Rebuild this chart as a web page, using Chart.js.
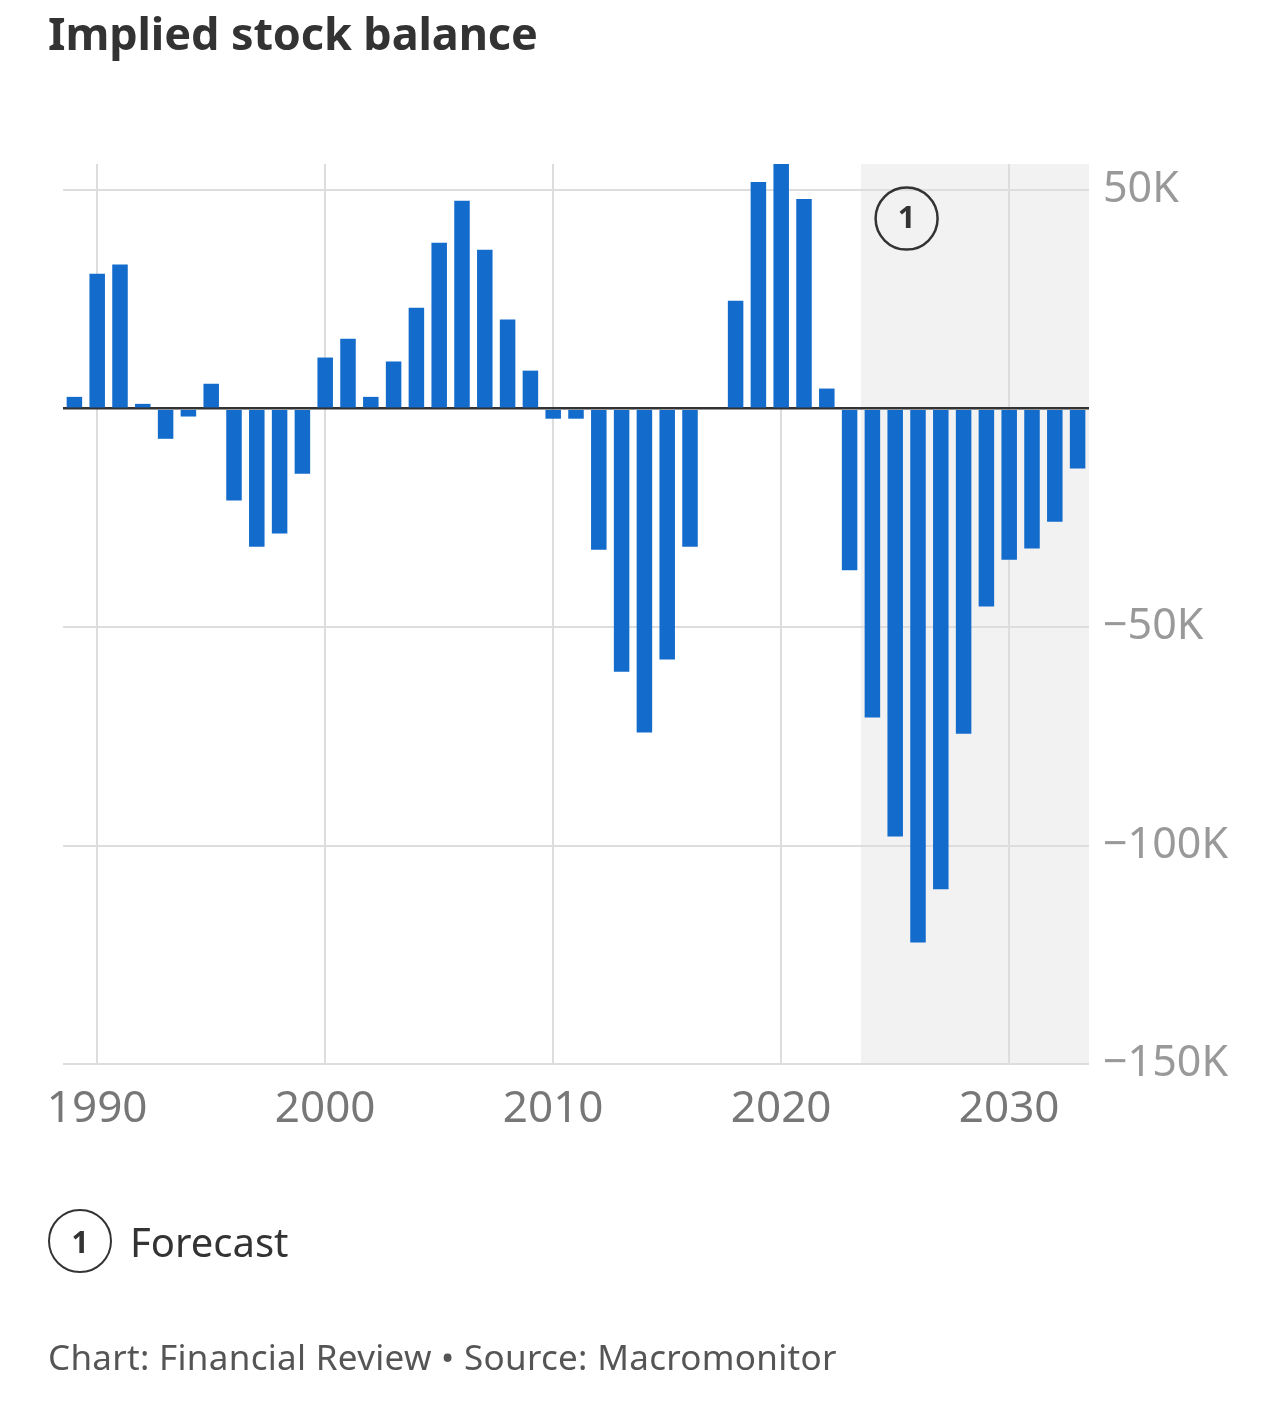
<!DOCTYPE html>
<html>
<head>
<meta charset="utf-8">
<script src="https://cdn.jsdelivr.net/npm/chart.js@4"></script>
<style>
  body { margin: 0; background: #fff; font-family: "Noto Sans", sans-serif; }
  #wrap { position: absolute; left: 0; top: 0; width: 1284px; height: 1402px; }
  #title { position: absolute; left: 48px; top: 2px; font-size: 45px; font-weight: 700; color: #333; letter-spacing: -0.1px; }
  #legend { position: absolute; left: 48px; top: 1209px; height: 64px; display: flex; align-items: center; }
  #legend .num { width: 60px; height: 60px; border: 2px solid #333; border-radius: 50%; display: flex; align-items: center; justify-content: center; font-size: 30px; font-weight: 700; color: #333; }
  #legend .txt { margin-left: 18px; font-size: 40px; color: #333; }
  #footer { position: absolute; left: 48px; top: 1333px; font-size: 35px; letter-spacing: 0.3px; color: #555; }
</style>
</head>
<body>
<div id="wrap"><canvas id="chart"></canvas></div>
<div id="title">Implied stock balance</div>
<div id="legend"><div class="num">1</div><div class="txt">Forecast</div></div>
<div id="footer">Chart: Financial Review • Source: Macromonitor</div>
<script>
const years = [1989, 1990, 1991, 1992, 1993, 1994, 1995, 1996, 1997, 1998,
  1999, 2000, 2001, 2002, 2003, 2004, 2005, 2006, 2007, 2008,
  2009, 2010, 2011, 2012, 2013, 2014, 2015, 2016, 2017, 2018,
  2019, 2020, 2021, 2022, 2023, 2024, 2025, 2026, 2027, 2028,
  2029, 2030, 2031, 2032, 2033];
const balance = [2700, 30900, 33000, 1100, -6900, -1800, 5700, -21000, -31600, -28600,
  -14900, 11700, 16000, 2700, 10800, 23100, 38000, 47600, 36400, 20400,
  8700, -2300, -2300, -32300, -60200, -74100, -57400, -31600, 0, 24700,
  51900, 56000, 48000, 4600, -37000, -70700, -97900, -122200, -110000, -74400,
  -45300, -34600, -32000, -25900, -13700];
const yTicks = [-150000, -100000, -50000, 0, 50000];
const forecastStart = 2023.5;
const forecastLabel = "1";

const barColor = "#136bcb";

// shaded forecast period, drawn before the grid
const forecastShade = {
  id: "forecastShade",
  beforeDraw(chart) {
    const {ctx, chartArea, scales} = chart;
    const x0 = scales.x.getPixelForValue(forecastStart);
    ctx.save();
    ctx.fillStyle = "#f2f2f2";
    ctx.fillRect(x0, chartArea.top, chartArea.right - x0, chartArea.bottom - chartArea.top);
    ctx.restore();
  },
  afterDraw(chart) {
    const {ctx, scales} = chart;
    const cx = scales.x.getPixelForValue(2025.5);
    const cy = scales.y.getPixelForValue(43500);
    ctx.save();
    ctx.beginPath();
    ctx.arc(cx, cy, 31, 0, Math.PI * 2);
    ctx.lineWidth = 2.5;
    ctx.strokeStyle = "#333";
    ctx.stroke();
    ctx.fillStyle = "#333";
    ctx.font = "bold 31px 'Noto Sans'";
    ctx.textAlign = "center";
    ctx.textBaseline = "middle";
    ctx.fillText(forecastLabel, cx, cy + 1);
    ctx.restore();
  }
};

new Chart(document.getElementById("chart"), {
  type: "bar",
  data: {
    datasets: [{
      label: "Implied stock balance",
      data: years.map((y, i) => ({x: y, y: balance[i]})),
      backgroundColor: barColor,
      categoryPercentage: 1,
      barPercentage: 0.68
    }]
  },
  options: {
    responsive: true,
    maintainAspectRatio: false,
    animation: false,
    layout: { padding: { top: 164, left: 63, right: 0, bottom: 252 } },
    plugins: { legend: { display: false }, tooltip: { enabled: false } },
    scales: {
      x: {
        type: "linear",
        min: 1988.5,
        max: 2033.5,
        offset: false,
        grid: { color: "#dddddd", lineWidth: 2, drawTicks: false, offset: false },
        border: { display: false },
        ticks: {
          stepSize: 10,
          includeBounds: false,
          padding: 19,
          color: "#777",
          font: { family: "Noto Sans", size: 44 },
          callback: v => String(v)
        },
        afterFit: s => { s.height = 86; }
      },
      y: {
        position: "right",
        min: -150000,
        max: 56000,
        afterBuildTicks: s => { s.ticks = yTicks.map(v => ({value: v})); },
        grid: {
          color: c => c.tick && c.tick.value === 0 ? "#333" : "#dddddd",
          lineWidth: c => c.tick && c.tick.value === 0 ? 2.5 : 2,
          drawTicks: false
        },
        border: { display: false },
        ticks: {
          padding: 14,
          color: "#999",
          font: { family: "Noto Sans", size: 43 },
          callback: v => v === 0 ? "" : (v < 0 ? "\u2212" : "") + Math.abs(v / 1000) + "K"
        },
        afterFit: s => { s.width = 195; }
      }
    }
  },
  plugins: [forecastShade]
});
</script>
</body>
</html>
